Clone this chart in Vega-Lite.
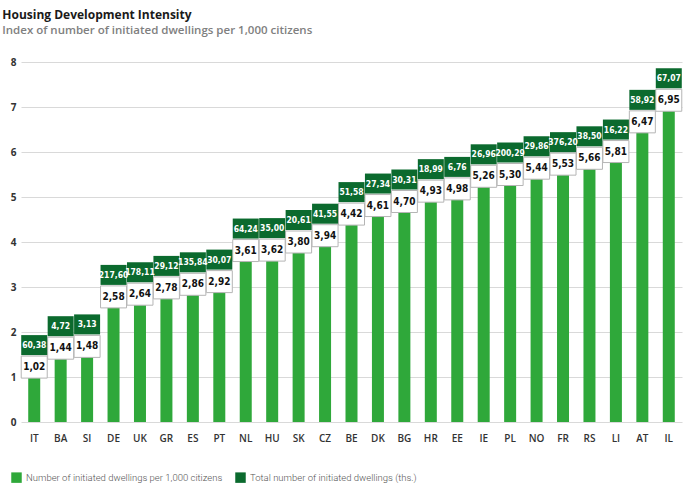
{
  "$schema": "https://vega.github.io/schema/vega-lite/v6.json",
  "autosize": "none",
  "width": 661,
  "height": 360,
  "padding": {"left": 21, "top": 62, "right": 16, "bottom": 74},
  "background": "white",
  "title": {
    "text": "Housing Development Intensity",
    "subtitle": "Index of number of initiated dwellings per 1,000 citizens",
    "anchor": "start",
    "dx": -8,
    "offset": 20,
    "font": "Open Sans",
    "fontSize": 12,
    "fontWeight": "bold",
    "color": "#1a1a1a",
    "subtitleFont": "Open Sans",
    "subtitleFontSize": 11.5,
    "subtitleFontWeight": 600,
    "subtitleColor": "#808080",
    "subtitlePadding": 3
  },
  "data": {
    "values": [
      {"country": "IT", "index": 1.02, "indexLabel": "1,02", "total": "60,38"},
      {"country": "BA", "index": 1.44, "indexLabel": "1,44", "total": "4,72"},
      {"country": "SI", "index": 1.48, "indexLabel": "1,48", "total": "3,13"},
      {"country": "DE", "index": 2.58, "indexLabel": "2,58", "total": "217,60"},
      {"country": "UK", "index": 2.64, "indexLabel": "2,64", "total": "178,11"},
      {"country": "GR", "index": 2.78, "indexLabel": "2,78", "total": "29,12"},
      {"country": "ES", "index": 2.86, "indexLabel": "2,86", "total": "135,84"},
      {"country": "PT", "index": 2.92, "indexLabel": "2,92", "total": "30,07"},
      {"country": "NL", "index": 3.61, "indexLabel": "3,61", "total": "64,24"},
      {"country": "HU", "index": 3.62, "indexLabel": "3,62", "total": "35,00"},
      {"country": "SK", "index": 3.80, "indexLabel": "3,80", "total": "20,61"},
      {"country": "CZ", "index": 3.94, "indexLabel": "3,94", "total": "41,55"},
      {"country": "BE", "index": 4.42, "indexLabel": "4,42", "total": "51,58"},
      {"country": "DK", "index": 4.61, "indexLabel": "4,61", "total": "27,34"},
      {"country": "BG", "index": 4.70, "indexLabel": "4,70", "total": "30,31"},
      {"country": "HR", "index": 4.93, "indexLabel": "4,93", "total": "18,99"},
      {"country": "EE", "index": 4.98, "indexLabel": "4,98", "total": "6,76"},
      {"country": "IE", "index": 5.26, "indexLabel": "5,26", "total": "26,96"},
      {"country": "PL", "index": 5.30, "indexLabel": "5,30", "total": "200,29"},
      {"country": "NO", "index": 5.44, "indexLabel": "5,44", "total": "29,86"},
      {"country": "FR", "index": 5.53, "indexLabel": "5,53", "total": "376,20"},
      {"country": "RS", "index": 5.66, "indexLabel": "5,66", "total": "38,50"},
      {"country": "LI", "index": 5.81, "indexLabel": "5,81", "total": "16,22"},
      {"country": "AT", "index": 6.47, "indexLabel": "6,47", "total": "58,92"},
      {"country": "IL", "index": 6.95, "indexLabel": "6,95", "total": "67,07"}
    ]
  },
  "encoding": {
    "x": {
      "field": "country",
      "type": "nominal",
      "sort": null,
      "scale": {"paddingInner": 0, "paddingOuter": 0},
      "axis": {
        "title": null,
        "labelAngle": 0,
        "ticks": false,
        "domain": false,
        "labelPadding": 11,
        "labelFont": "Open Sans",
        "labelFontSize": 10,
        "labelFontWeight": 600,
        "labelColor": "#333333"
      }
    }
  },
  "layer": [
    {
      "mark": {"type": "bar", "width": 12},
      "encoding": {
        "y": {
          "field": "index",
          "type": "quantitative",
          "scale": {"domain": [0, 8], "nice": false},
          "axis": {
            "title": null,
            "values": [0, 1, 2, 3, 4, 5, 6, 7, 8],
            "ticks": false,
            "domain": false,
            "labelPadding": 5,
            "labelFont": "Open Sans",
            "labelFontSize": 10,
            "labelFontWeight": "bold",
            "labelColor": "#333333",
            "gridColor": "#d9d9d9",
            "gridWidth": 1.2
          }
        },
        "color": {
          "datum": "Number of initiated dwellings per 1,000 citizens",
          "type": "nominal",
          "scale": {
            "domain": ["Number of initiated dwellings per 1,000 citizens", "Total number of initiated dwellings (ths.)"],
            "range": ["#2fa83a", "#0b6a2e"]
          },
          "legend": {
            "title": null,
            "orient": "none",
            "direction": "horizontal",
            "legendX": -10,
            "legendY": 410,
            "symbolType": "square",
            "symbolSize": 110,
            "symbolStrokeWidth": 0,
            "labelFont": "Roboto",
            "labelFontWeight": 300,
            "labelFontSize": 9.5,
            "labelColor": "#555555",
            "labelOffset": 4,
            "columnPadding": 12,
            "labelLimit": 400
          }
        }
      }
    },
    {
      "mark": {"type": "bar", "width": 26, "fill": "white", "stroke": "#b5b5b5", "strokeWidth": 1, "yOffset": 2, "y2Offset": -20},
      "encoding": {
        "y": {"field": "index", "type": "quantitative"},
        "y2": {"field": "index"}
      }
    },
    {
      "mark": {"type": "bar", "width": 26, "yOffset": -21, "y2Offset": -41},
      "encoding": {
        "y": {"field": "index", "type": "quantitative"},
        "y2": {"field": "index"},
        "color": {"datum": "Total number of initiated dwellings (ths.)", "type": "nominal"}
      }
    },
    {
      "mark": {"type": "text", "yOffset": -9, "baseline": "middle", "font": "DejaVu Sans Condensed", "fontSize": 10, "fontWeight": "bold", "fill": "#111111"},
      "encoding": {
        "y": {"field": "index", "type": "quantitative"},
        "text": {"field": "indexLabel"}
      }
    },
    {
      "mark": {"type": "text", "yOffset": -31, "baseline": "middle", "font": "DejaVu Sans Condensed", "fontSize": 8.5, "fontWeight": "bold", "fill": "white"},
      "encoding": {
        "y": {"field": "index", "type": "quantitative"},
        "text": {"field": "total"}
      }
    }
  ],
  "config": {
    "view": {"stroke": null}
  }
}
